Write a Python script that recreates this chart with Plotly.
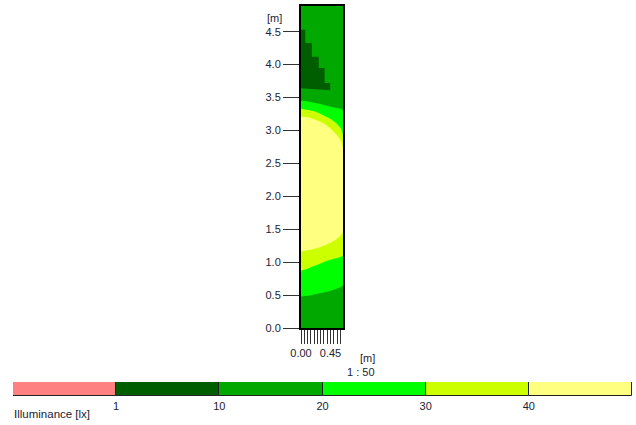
import plotly.graph_objects as go

W, H = 636, 425


def px(xp):
    return xp / W


def py(yp):
    return 1 - yp / H


# ---- data ----
# colour classes (illuminance [lx])
class_labels = ['<1', '1-10', '10-20', '20-30', '30-40', '>40']
class_colors = ['#FF8080', '#005E00', '#00A800', '#00FF00', '#CCFF00', '#FFFF80']
scale_ticks = ['1', '10', '20', '30', '40']

# room section extent [m]
room_width = 0.64
room_height = 4.89

# x sample positions along the section [m]
xs = [0.0, 0.1, 0.2, 0.3, 0.4, 0.5, 0.6, 0.64]
# isoline heights [m] at xs
iso20_low = [0.48, 0.49, 0.51, 0.53, 0.55, 0.58, 0.62, 0.65]
iso30_low = [0.87, 0.90, 0.94, 0.98, 1.02, 1.05, 1.08, 1.10]
iso40_low = [1.16, 1.18, 1.20, 1.23, 1.27, 1.32, 1.40, 1.46]
iso40_up = [3.21, 3.20, 3.17, 3.13, 3.07, 2.98, 2.86, 2.72]
iso30_up = [3.33, 3.31, 3.29, 3.25, 3.20, 3.14, 3.04, 2.92]
iso20_up = [3.45, 3.44, 3.42, 3.40, 3.37, 3.35, 3.33, 3.30]

# 1-10 lx stepped region outline [m]
dark_x = [0.0, 0.065, 0.065, 0.167, 0.167, 0.27, 0.27, 0.36, 0.36, 0.445, 0.445, 0.30, 0.0]
dark_y = [4.53, 4.53, 4.33, 4.33, 4.12, 4.12, 3.95, 3.95, 3.72, 3.72, 3.61, 3.62, 3.64]

y_ticks = [0.0, 0.5, 1.0, 1.5, 2.0, 2.5, 3.0, 3.5, 4.0, 4.5]
x_ticks = [0.00, 0.05, 0.10, 0.15, 0.20, 0.25, 0.30, 0.35, 0.40, 0.45, 0.50, 0.55, 0.60]
x_tick_labels = ['0.00', '', '', '', '', '', '', '', '', '0.45', '', '', '']

# ---- figure ----
fig = go.Figure()

# base 10-20 lx region
fig.add_trace(go.Scatter(
    x=[0, room_width, room_width, 0, 0], y=[0, 0, room_height, room_height, 0],
    fill='toself', fillcolor=class_colors[2], line=dict(width=0), mode='lines',
    hoverinfo='skip', showlegend=False))


def band(lower, upper, color):
    fig.add_trace(go.Scatter(
        x=xs + xs[::-1], y=lower + upper[::-1], fill='toself', fillcolor=color,
        mode='lines', line=dict(width=0, shape='spline', smoothing=0.8),
        hoverinfo='skip', showlegend=False))


band(iso20_low, iso20_up, class_colors[3])
band(iso30_low, iso30_up, class_colors[4])
band(iso40_low, iso40_up, class_colors[5])

fig.add_trace(go.Scatter(
    x=dark_x, y=dark_y, fill='toself', fillcolor=class_colors[1],
    mode='lines', line=dict(width=0), hoverinfo='skip', showlegend=False))

# scale bar (legend)
fig.add_trace(go.Bar(
    x=[1] * len(class_labels), y=[0] * len(class_labels),
    base=list(range(len(class_labels))), orientation='h', width=1,
    marker=dict(color=class_colors, line=dict(color='#222222', width=1)),
    xaxis='x2', yaxis='y2', hoverinfo='skip', showlegend=False))

tick_font = dict(family='Liberation Sans, Arial, sans-serif', size=11, color='#222233')

fig.update_layout(
    width=W, height=H,
    margin=dict(l=0, r=0, t=0, b=0),
    paper_bgcolor='white', plot_bgcolor='white',
    showlegend=False,
    xaxis=dict(
        domain=[px(301), px(343)], range=[0, room_width],
        tickvals=x_ticks, ticktext=x_tick_labels,
        ticks='outside', ticklen=14, tickcolor='#333333', tickwidth=1,
        showgrid=False, zeroline=False,
        showline=True, linecolor='black', linewidth=2, mirror=True,
        tickfont=tick_font, automargin=False, fixedrange=True),
    yaxis=dict(
        domain=[py(328), py(6)], range=[0, room_height],
        tickvals=y_ticks, ticktext=[f'{v:.1f}' for v in y_ticks],
        ticks='outside', ticklen=16, tickcolor='#333333', tickwidth=1,
        showgrid=False, zeroline=False,
        showline=True, linecolor='black', linewidth=2, mirror=True,
        tickfont=tick_font, automargin=False, fixedrange=True),
    xaxis2=dict(
        domain=[px(13), px(632)], range=[0, len(class_labels)],
        anchor='y2', tickvals=[1, 2, 3, 4, 5], ticktext=scale_ticks,
        ticks='', showgrid=False, zeroline=False, showline=False,
        ticklabelstandoff=2,
        tickfont=tick_font, automargin=False, fixedrange=True),
    yaxis2=dict(
        domain=[py(396), py(382)], range=[-0.5, 0.5],
        anchor='x2', showticklabels=False, ticks='', showgrid=False,
        zeroline=False, showline=False, automargin=False, fixedrange=True),
    bargap=0,
)

ann_font = dict(family='Liberation Sans, Arial, sans-serif', size=11, color='#222233')
fig.add_annotation(text='[m]', x=px(284), y=py(18), xref='paper', yref='paper',
                   xanchor='right', yanchor='middle', showarrow=False, font=ann_font)
fig.add_annotation(text='[m]', x=px(377), y=py(357.5), xref='paper', yref='paper',
                   xanchor='right', yanchor='middle', showarrow=False, font=ann_font)
fig.add_annotation(text='1 : 50', x=px(377), y=py(372), xref='paper', yref='paper',
                   xanchor='right', yanchor='middle', showarrow=False, font=ann_font)
fig.add_annotation(text='Illuminance [lx]', x=px(12), y=py(414), xref='paper', yref='paper',
                   xanchor='left', yanchor='middle', showarrow=False,
                   font=dict(ann_font, size=11.5))

fig.write_html('out.html', config={'displayModeBar': False},
               post_script="document.body.style.margin='0';document.body.style.overflow='hidden';")
